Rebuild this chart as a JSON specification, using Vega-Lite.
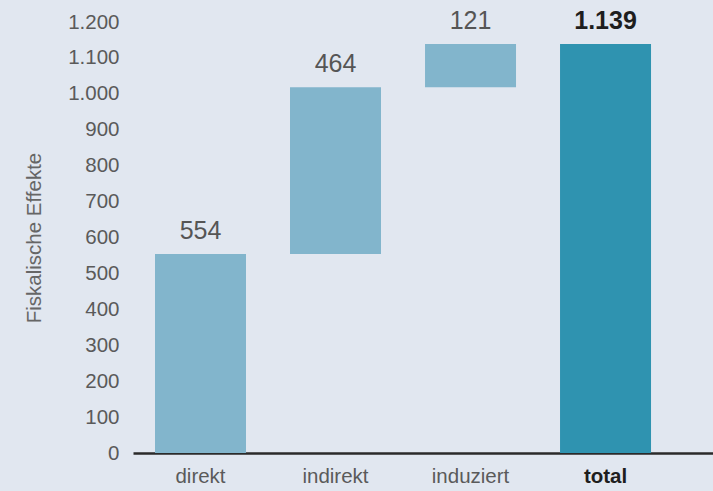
{
  "$schema": "https://vega.github.io/schema/vega-lite/v6.json",
  "width": 580,
  "height": 431,
  "autosize": {"type": "none"},
  "padding": {"left": 133, "top": 22, "right": 0, "bottom": 38},
  "background": "#e1e7f0",
  "config": {
    "view": {"stroke": null},
    "font": "Liberation Sans",
    "axis": {"labelFont": "Liberation Sans", "titleFont": "Liberation Sans"}
  },
  "data": {
    "values": [
      {"kategorie": "direkt", "start": 0, "ende": 554, "wert": "554", "typ": "teil"},
      {"kategorie": "indirekt", "start": 554, "ende": 1018, "wert": "464", "typ": "teil"},
      {"kategorie": "induziert", "start": 1018, "ende": 1139, "wert": "121", "typ": "teil"},
      {"kategorie": "total", "start": 0, "ende": 1139, "wert": "1.139", "typ": "total"}
    ]
  },
  "encoding": {
    "x": {
      "field": "kategorie",
      "type": "nominal",
      "sort": null,
      "scale": {"paddingInner": 0.326, "paddingOuter": 0.311, "align": 0.262},
      "axis": {
        "title": null,
        "labelAngle": 0,
        "labelFontSize": 20.5,
        "labelColor": {"condition": {"test": "datum.value === 'total'", "value": "#1e1e1e"}, "value": "#5a5a5a"},
        "labelFontWeight": {"condition": {"test": "datum.value === 'total'", "value": "bold"}, "value": "normal"},
        "labelPadding": 13,
        "labelOverlap": false,
        "ticks": false,
        "domainColor": "#2a2a2a",
        "domainWidth": 2.5,
        "grid": false
      }
    },
    "y": {
      "field": "ende",
      "type": "quantitative",
      "scale": {"domain": [0, 1200], "nice": false},
      "axis": {
        "title": "Fiskalische Effekte",
        "titleFontSize": 20.5,
        "titleFontWeight": "normal",
        "titleColor": "#666666",
        "titlePadding": 23,
        "values": [0, 100, 200, 300, 400, 500, 600, 700, 800, 900, 1000, 1100, 1200],
        "labelExpr": "replace(format(datum.value, ','), ',', '.')",
        "labelFontSize": 20.5,
        "labelColor": "#5a5a5a",
        "labelPadding": 14,
        "labelOverlap": false,
        "ticks": false,
        "domain": false,
        "grid": false
      }
    }
  },
  "layer": [
    {
      "mark": {"type": "bar"},
      "encoding": {
        "y2": {"field": "start"},
        "color": {
          "field": "typ",
          "type": "nominal",
          "scale": {"domain": ["teil", "total"], "range": ["#82b5cc", "#2f93b0"]},
          "legend": null
        }
      }
    },
    {
      "transform": [{"filter": "datum.typ === 'teil'"}],
      "mark": {"type": "text", "baseline": "alphabetic", "dy": -15, "fontSize": 25, "color": "#555555"},
      "encoding": {
        "text": {"field": "wert"}
      }
    },
    {
      "transform": [{"filter": "datum.typ === 'total'"}],
      "mark": {"type": "text", "baseline": "alphabetic", "dy": -15, "fontSize": 25, "fontWeight": "bold", "color": "#1e1e1e"},
      "encoding": {
        "text": {"field": "wert"}
      }
    }
  ]
}
